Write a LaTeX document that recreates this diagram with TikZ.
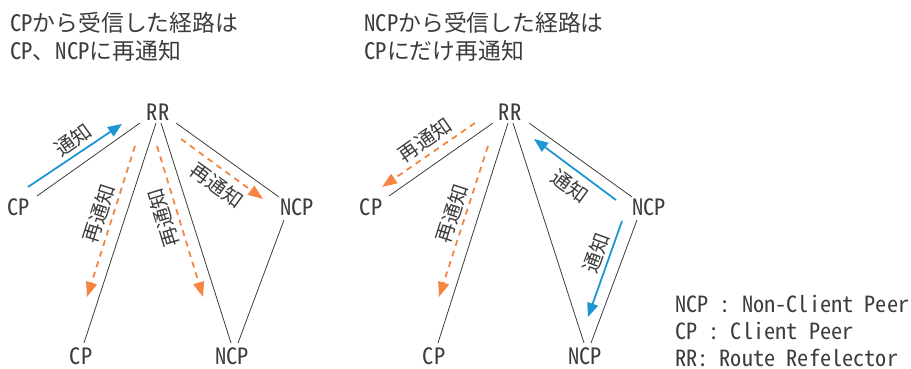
\documentclass[tikz,border=0pt]{standalone}
\usepackage{fontspec}
\usetikzlibrary{arrows.meta}
\newfontfamily\jp[RawFeature=+hwid]{Noto Sans CJK JP}
\definecolor{ink}{HTML}{3C3C3C}
\definecolor{bluearrow}{HTML}{1E96D2}
\definecolor{orangearrow}{HTML}{F58540}
\tikzset{
  peer/.style={inner sep=0pt,text=ink,font=\jp\fontsize{22.5}{27}\selectfont},
  title/.style={inner sep=0pt,anchor=west,align=left,text=ink,font=\jp\fontsize{22.8}{28}\selectfont},
  legend/.style={inner sep=0pt,anchor=west,align=left,text=ink,font=\jp\fontsize{22.3}{27}\selectfont},
  lab/.style={inner sep=0pt,text=ink,font=\jp\fontsize{20}{22}\selectfont},
  link/.style={draw=ink,line width=0.8pt},
  sent/.style={draw=bluearrow,line width=1.8pt,-{Triangle[length=14pt,width=11pt]}},
  resent/.style={draw=orangearrow,line width=1.8pt,dash pattern=on 6pt off 5pt,-{Triangle[length=15pt,width=11pt]}},
}
\begin{document}
\begin{tikzpicture}[x=1pt,y=-1pt]
\useasboundingbox (0,0) rectangle (911,369);
% titles
\node[title] (t1) at (10,37) {CPから受信した経路は\\CP、NCPに再通知};
\node[title] (t2) at (364,37) {NCPから受信した経路は\\CPにだけ再通知};
% left panel
\node[peer] (rrA) at (158,112) {RR};
\node[peer] (cpA) at (19,207) {CP};
\node[peer] (cpB) at (81,356) {CP};
\node[peer] (ncpB) at (232,356) {NCP};
\node[peer] (ncpA) at (297,207) {NCP};
\draw[link] ([shift={(18,-11)}]cpA.center) -- ([shift={(-18,11)}]rrA.center);
\draw[link] ([shift={(-2,11)}]rrA.center) -- ([shift={(3,-13)}]cpB.center);
\draw[link] ([shift={(3,11)}]rrA.center) -- ([shift={(-1,-13)}]ncpB.center);
\draw[link] ([shift={(18,11)}]rrA.center) -- ([shift={(-18,-10)}]ncpA.center);
\draw[link] ([shift={(-13,13)}]ncpA.center) -- ([shift={(6,-13)}]ncpB.center);
\coordinate (a1s) at (28,187); \coordinate (a1e) at (122,124);
\coordinate (a2s) at (135,146); \coordinate (a2e) at (87,297);
\coordinate (a3s) at (157,146); \coordinate (a3e) at (203,297);
\coordinate (a4s) at (181,139); \coordinate (a4e) at (263,199);
\draw[sent] (a1s) -- (a1e);
\draw[resent] (a2s) -- (a2e);
\draw[resent] (a3s) -- (a3e);
\draw[resent] (a4s) -- (a4e);
\node[lab,rotate=36] (l1) at (73,140) {通知};
\node[lab,rotate=72] (l2) at (99,214) {再通知};
\node[lab,rotate=107] (l3) at (163,218) {再通知};
\node[lab,rotate=-36] (l4) at (217,185) {再通知};
% right panel
\node[peer] (rrC) at (510,112) {RR};
\node[peer] (cpC) at (371,207) {CP};
\node[peer] (cpD) at (434,356) {CP};
\node[peer] (ncpD) at (585,356) {NCP};
\node[peer] (ncpC) at (649,207) {NCP};
\draw[link] ([shift={(18,-11)}]cpC.center) -- ([shift={(-17,11)}]rrC.center);
\draw[link] ([shift={(-2,11)}]rrC.center) -- ([shift={(4,-13)}]cpD.center);
\draw[link] ([shift={(3,11)}]rrC.center) -- ([shift={(-1,-13)}]ncpD.center);
\draw[link] ([shift={(19,11)}]rrC.center) -- ([shift={(-17,-10)}]ncpC.center);
\draw[link] ([shift={(-12,13)}]ncpC.center) -- ([shift={(6,-13)}]ncpD.center);
\coordinate (b1s) at (475,123); \coordinate (b1e) at (382,187);
\coordinate (b2s) at (488,146); \coordinate (b2e) at (439,297);
\coordinate (b3s) at (616,200); \coordinate (b3e) at (534,139);
\coordinate (b4s) at (622,221); \coordinate (b4e) at (588,317);
\draw[resent] (b1s) -- (b1e);
\draw[resent] (b2s) -- (b2e);
\draw[sent] (b3s) -- (b3e);
\draw[sent] (b4s) -- (b4e);
\node[lab,rotate=35] (l5) at (425,140) {再通知};
\node[lab,rotate=72] (l6) at (452,214) {再通知};
\node[lab,rotate=-36] (l7) at (570,186) {通知};
\node[lab,rotate=70] (l8) at (596,253) {通知};
% legend
\node[legend] (key) at (675,331) {NCP : Non-Client Peer\\CP : Client Peer\\RR: Route Refelector};
\end{tikzpicture}
\end{document}
